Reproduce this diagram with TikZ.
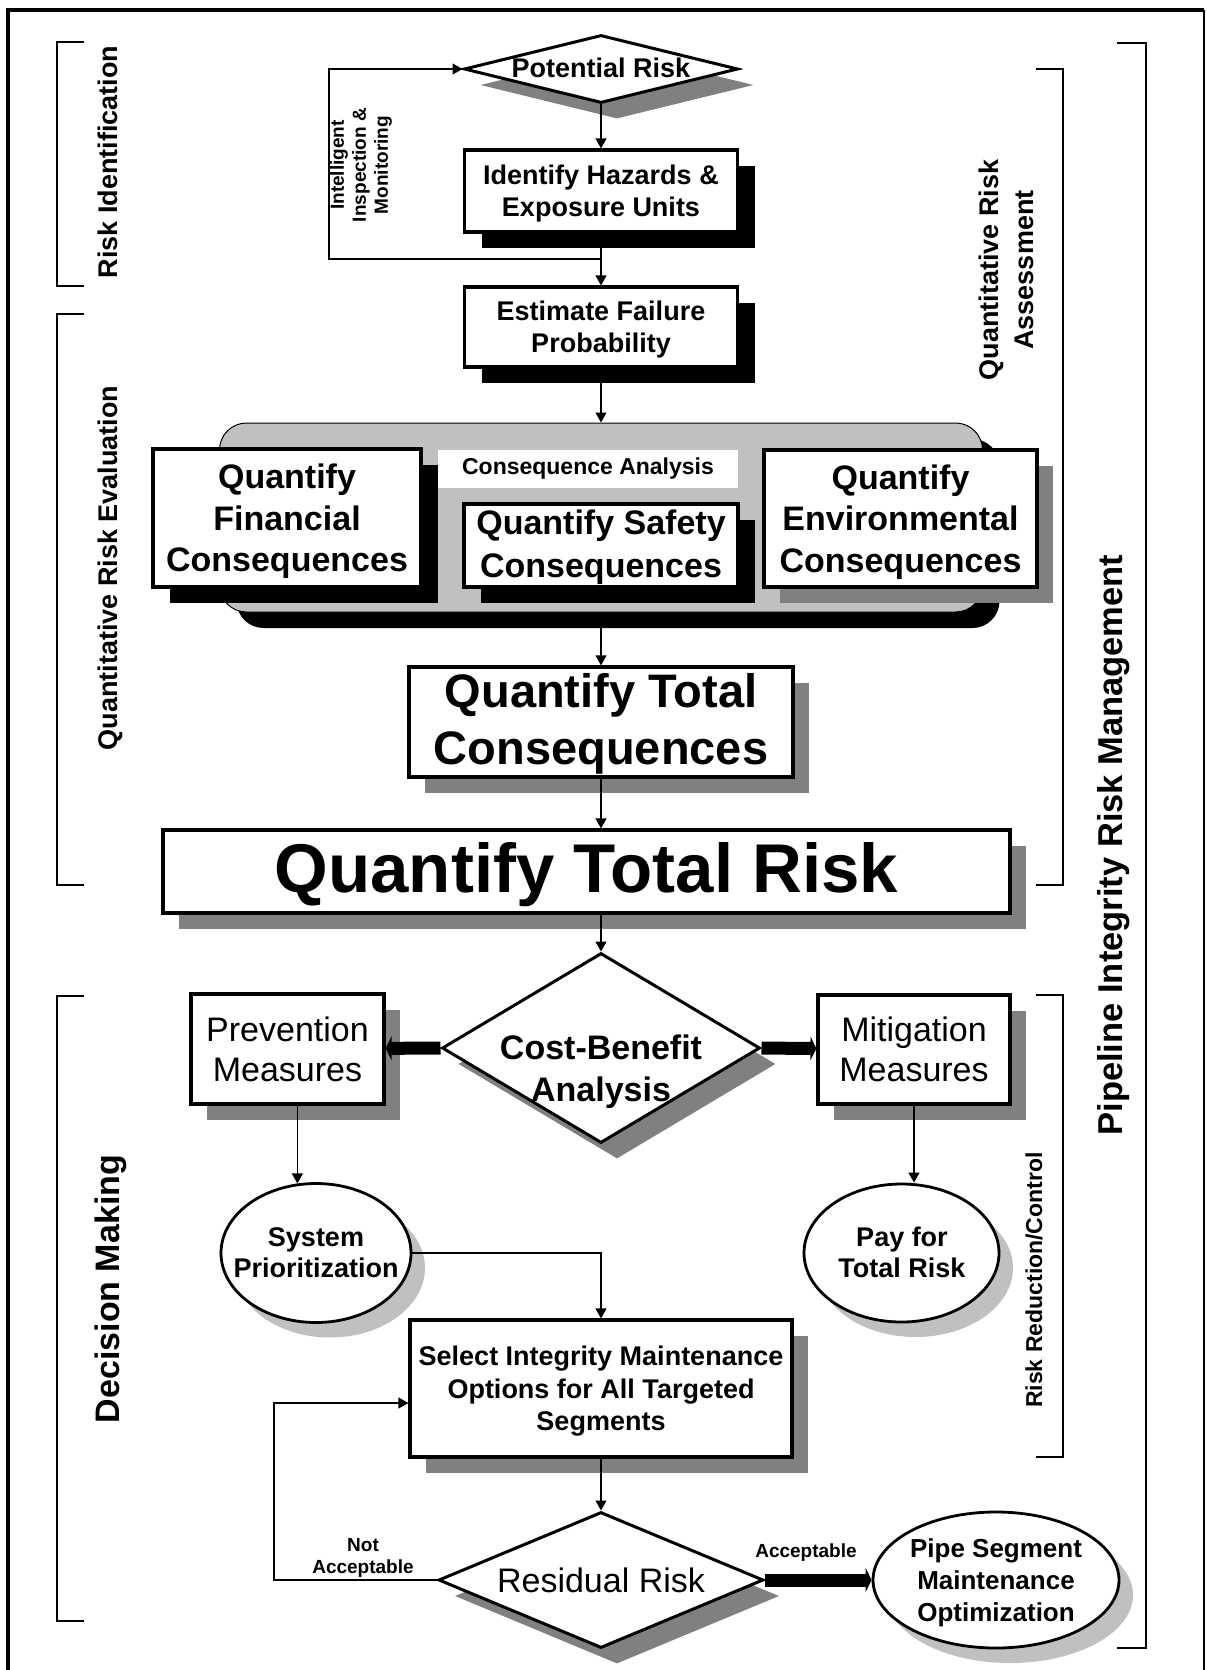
\documentclass[tikz,border=0pt]{standalone}
\usepackage{fontspec}
\setmainfont{Liberation Sans}
\usepackage{tikz}
\usetikzlibrary{positioning}
\usetikzlibrary{shapes.geometric}
\usetikzlibrary{shadows}
\usetikzlibrary{arrows.meta}
\definecolor{shadegray}{HTML}{808080}
\definecolor{pillgray}{HTML}{C0C0C0}

\begin{document}
\begin{tikzpicture}[x=0.5pt,y=-0.5pt,
  box/.style={draw,line width=1.6pt,fill=white,inner sep=1pt,align=center,text depth=0pt},
  blackshade/.style={drop shadow={shadow xshift=8.5pt,shadow yshift=-8pt,fill=black,opacity=1}},
  grayshade/.style={drop shadow={shadow xshift=8pt,shadow yshift=-8pt,fill=shadegray,opacity=1}},
  lightshade/.style={drop shadow={shadow xshift=7pt,shadow yshift=-7.5pt,fill=pillgray,opacity=1}},
  decision/.style={draw,diamond,line width=1.5pt,fill=white,inner sep=0pt},
  oval/.style={draw,ellipse,line width=1.4pt,fill=white,inner sep=0pt},
  conn/.style={line width=0.6pt,-{Triangle[length=5pt,width=5.5pt]}},
  fatconn/.style={line width=6.5pt,-{Triangle[length=3pt,width=12pt]}},
  bracket/.style={line width=0.6pt},
  side/.style={rotate=90,align=center,font=\fontsize{13.5}{17.5}\selectfont\bfseries},
  smalltext/.style={align=center,font=\fontsize{9.5}{11}\selectfont\bfseries},
  midtext/.style={align=center,text depth=0pt,font=\fontsize{13.5}{16}\selectfont\bfseries},
  bigtext/.style={align=center,text depth=0pt,font=\fontsize{17}{20.75}\selectfont\bfseries},
  plaintext/.style={align=center,font=\fontsize{17}{20}\selectfont}
]
  \useasboundingbox (0,0) rectangle (1206,1670);

  % frame
  \draw[line width=0.6pt] (1204,10) -- (1204,1670);
  \draw[line width=2pt] (8,1670) -- (8,10) -- (1204,10);

  % brackets and their labels
  \draw[bracket] (84,42) -- (57,42) -- (57,286) -- (84,286);
  \draw[bracket] (84,314) -- (57,314) -- (57,885) -- (84,885);
  \draw[bracket] (84,996) -- (57,996) -- (57,1621) -- (84,1621);
  \draw[bracket] (1036,69) -- (1063,69) -- (1063,885) -- (1036,885);
  \draw[bracket] (1036,995) -- (1063,995) -- (1063,1457) -- (1036,1457);
  \draw[bracket] (1117,43) -- (1146,43) -- (1146,1648) -- (1117,1648);
  \node[side] (ident-lbl) at (108,162) {Risk Identification};
  \node[side] (eval-lbl) at (110,568) {Quantitative Risk Evaluation};
  \node[side,font=\fontsize{17}{20}\selectfont\bfseries] (dec-lbl) at (111,1289) {Decision Making};
  \node[side] (assess-lbl) at (1006,270) {Quantitative Risk\\Assessment};
  \node[side,font=\fontsize{11.5}{14}\selectfont\bfseries] (ctrl-lbl) at (1034,1280) {Risk Reduction/Control};
  \node[side,font=\fontsize{17.25}{20}\selectfont\bfseries] (mgmt-lbl) at (1114,845) {Pipeline Integrity Risk Management};

  % risk identification
  \node[decision,grayshade,minimum width=137pt,minimum height=34pt] (pot) at (601,69) {};
  \node[midtext] (pot-txt) at (601,68) {Potential Risk};
  \node[box,blackshade,midtext,minimum width=136.5pt,minimum height=41pt] (ident) at (601,191) {Identify Hazards \&\\Exposure Units};
  \node[box,blackshade,midtext,minimum width=136.5pt,minimum height=40pt] (est) at (601,327) {Estimate Failure\\Probability};
  \coordinate (fb) at (601,259);
  \coordinate (fb-corner) at (329,259);
  \draw[conn] (pot) -- (ident);
  \draw[conn] (ident) -- (est);
  \draw[conn] (fb) -- (fb-corner) |- (pot.west);
  \node[smalltext,rotate=90] (fb-lbl) at (361,165) {Intelligent\\Inspection \&\\Monitoring};

  % consequence analysis
  \node[draw,line width=0.5pt,fill=pillgray,rounded corners=13.5pt,blackshade,minimum width=381.5pt,minimum height=94.5pt] (conseq) at (601,517.5) {};
  \node[fill=white,minimum width=150pt,minimum height=19pt,font=\fontsize{11.5}{14}\selectfont\bfseries] (conseq-lbl) at (588,469) {Consequence Analysis};
  \node[box,blackshade,bigtext,minimum width=134pt,minimum height=69pt] (fin) at (287,518) {Quantify\\Financial\\Consequences};
  \node[box,blackshade,bigtext,text depth=2pt,font=\fontsize{17}{21.5}\selectfont\bfseries,minimum width=137pt,minimum height=41.5pt] (safe) at (601,545.5) {Quantify Safety\\Consequences};
  \node[box,grayshade,bigtext,minimum width=136.5pt,minimum height=68.5pt] (env) at (900.5,518.5) {Quantify\\Environmental\\Consequences};
  \draw[conn] (est) -- (conseq);

  % totals
  \node[box,grayshade,text depth=3pt,font=\fontsize{23.5}{28.5}\selectfont\bfseries,minimum width=192pt,minimum height=55pt] (totcons) at (601,722) {Quantify Total\\Consequences};
  \node[box,grayshade,text depth=4pt,font=\fontsize{34.5}{40}\selectfont\bfseries,minimum width=423.5pt,minimum height=41.5pt] (totrisk) at (586.5,871.5) {Quantify Total Risk};
  \draw[conn] (conseq) -- (totcons);
  \draw[conn] (totcons) -- (totcons |- totrisk.north);

  % decision making
  \node[decision,grayshade,minimum width=159pt,minimum height=95pt] (cb) at (601,1048) {};
  \node[bigtext,font=\fontsize{17}{21}\selectfont\bfseries] (cb-txt) at (601,1068) {Cost-Benefit\\Analysis};
  \draw[conn] (totrisk.south -| cb) -- (cb);
  \node[box,grayshade,plaintext,minimum width=96.5pt,minimum height=55pt] (prev) at (287.5,1049) {Prevention\\Measures};
  \node[box,grayshade,plaintext,minimum width=96pt,minimum height=54.5pt] (mitig) at (914,1049.5) {Mitigation\\Measures};
  \draw[fatconn] (cb.west) -- (prev);
  \draw[fatconn] (cb.east) -- (mitig);

  \node[oval,lightshade,minimum width=95pt,minimum height=69.5pt] (sys) at (316,1253) {};
  \node[midtext,font=\fontsize{13.5}{15.5}\selectfont\bfseries] (sys-txt) at (316,1252.5) {System\\Prioritization};
  \node[oval,lightshade,minimum width=97.5pt,minimum height=69pt] (pay) at (901.5,1253) {};
  \node[midtext,font=\fontsize{13.5}{15.5}\selectfont\bfseries] (pay-txt) at (902,1252.5) {Pay for\\Total Risk};
  \draw[conn] (sys.105 |- prev.south) -- (sys.105);
  \draw[conn] (mitig.south) -- (mitig.south |- pay.north);

  \node[box,grayshade,font=\fontsize{13.5}{16.25}\selectfont\bfseries,minimum width=191pt,minimum height=68.5pt] (select) at (601,1388.5) {Select Integrity Maintenance\\Options for All Targeted\\Segments};
  \draw[conn] (sys.east) -| (select.north);

  \node[decision,grayshade,minimum width=162.5pt,minimum height=68pt] (resid) at (601,1580) {};
  \node[plaintext] (resid-txt) at (601,1580) {Residual Risk};
  \draw[conn] (select) -- (select |- resid.north);

  \node[oval,lightshade,minimum width=123pt,minimum height=68pt] (pipe) at (996,1580) {};
  \node[midtext,font=\fontsize{13}{16}\selectfont\bfseries] (pipe-txt) at (996,1580) {Pipe Segment\\Maintenance\\Optimization};
  \draw[fatconn] (resid.east) -- (pipe);
  \node[smalltext] (acc) at (806,1553) {Acceptable};

  \coordinate (na-corner) at (274,1403);
  \draw[conn] (resid.west) -| (na-corner) -- (na-corner -| select.west);
  \node[smalltext] (not-acc) at (363,1558) {Not\\Acceptable};
\end{tikzpicture}
\end{document}
